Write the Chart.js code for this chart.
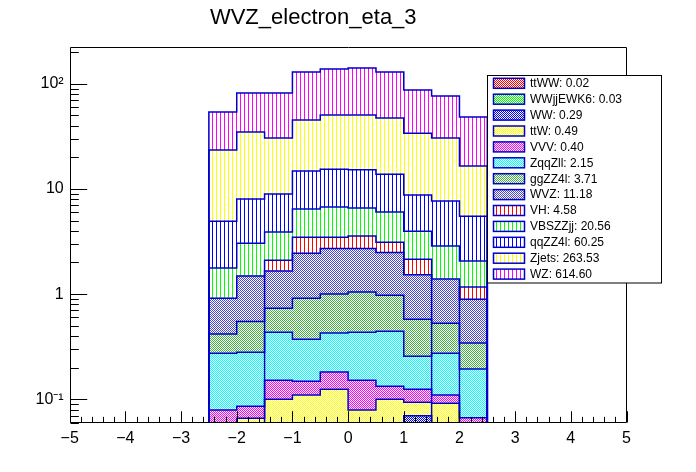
<!DOCTYPE html>
<html><head><meta charset="utf-8">
<script src="https://cdn.jsdelivr.net/npm/chart.js@4.4.1/dist/chart.umd.min.js"></script>
<style>html,body{margin:0;padding:0;background:#fff;} canvas{display:block;}</style>
</head><body>
<canvas id="c" width="696" height="472" style="width:696px;height:472px"></canvas>
<script>
// ---------------- data ----------------
const chartTitle = 'WVZ_electron_eta_3';
const binCenters = [-2.25, -1.75, -1.25, -0.75, -0.25, 0.25, 0.75, 1.25, 1.75, 2.25];
const xTickValues = [-5, -4, -3, -2, -1, 0, 1, 2, 3, 4, 5];
const yTickValues = [0.1, 1, 10, 100];
const yTickLabels = ['10\u207B\u00B9', '1', '10', '10\u00B2'];
const seriesNames = ['ttWW', 'WWjjEWK6', 'WW', 'ttW', 'VVV', 'ZqqZll', 'ggZZ4l', 'WVZ', 'VH', 'VBSZZjj', 'qqZZ4l', 'Zjets', 'WZ'];
const seriesTotals = [0.02, 0.03, 0.29, 0.49, 0.40, 2.15, 3.71, 11.18, 4.58, 20.56, 60.25, 263.53, 614.60];

const ttWW     = [0.001, 0.002, 0.002, 0.003, 0.003, 0.003, 0.002, 0.002, 0.001, 0.001];
const WWjjEWK6 = [0.002, 0.003, 0.003, 0.004, 0.004, 0.004, 0.003, 0.003, 0.002, 0.002];
const WW       = [0.020, 0.025, 0.030, 0.035, 0.030, 0.030, 0.035, 0.065, 0.030, 0.020];
const ttW      = [0.027, 0.036, 0.065, 0.068, 0.088, 0.042, 0.060, 0.024, 0.059, 0.022];
const VVV      = [0.029, 0.020, 0.052, 0.039, 0.057, 0.073, 0.033, 0.031, 0.018, 0.022];
const ZqqZll   = [0.196, 0.195, 0.283, 0.224, 0.245, 0.283, 0.312, 0.132, 0.165, 0.127];
const ggZZ4l   = [0.142, 0.268, 0.301, 0.543, 0.574, 0.610, 0.533, 0.321, 0.255, 0.150];
const WVZ      = [0.499, 0.941, 0.924, 1.534, 1.710, 1.665, 1.512, 0.952, 0.860, 0.552];
const VH       = [0, 0, 0.44, 1.03, 0.77, 0.85, 0.63, 0.62, 0, 0.274];
const VBSZZjj  = [0.854, 1.56, 1.79, 2.95, 3.24, 3.01, 2.90, 1.82, 1.47, 0.89];
const qqZZ4l   = [3.17, 4.95, 5.04, 8.37, 8.68, 8.63, 7.78, 4.76, 4.80, 3.45];
const Zjets    = [18.46, 26.7, 21.47, 30.3, 34.9, 35.1, 33.3, 25.17, 22.74, 10.99];
const WZ       = [30.3, 46.7, 51.0, 83.8, 87.3, 90.4, 81.8, 53.0, 45.8, 31.7];
const seriesValues = [ttWW, WWjjEWK6, WW, ttW, VVV, ZqqZll, ggZZ4l, WVZ, VH, VBSZZjj, qqZZ4l, Zjets, WZ];

// ---------------- styles ----------------
const fillKinds  = ['c', 'c', 'c', 'c', 'c', 'c', 'c', 'c', 'v', 'v', 'v', 'v', 'v'];
const fillColors = ['#ff0000', '#00ff00', '#0000ff', '#ffff00', '#ff00ff', '#00ffff', '#44b044', '#4848c8',
                    '#ff0000', '#00ff00', '#0000ff', '#ffff00', '#ff00ff'];
const lineColor = '#0000cc';
const FONT = "'Liberation Sans', Arial, Helvetica, sans-serif";

const canvas = document.getElementById('c');
const mainCtx = canvas.getContext('2d');
function makePattern(kind, color) {
  const c = document.createElement('canvas');
  const w = kind === 'v' ? 4 : 2, h = kind === 'v' ? 4 : 2;
  c.width = w; c.height = h;
  const g = c.getContext('2d');
  g.fillStyle = '#ffffff'; g.fillRect(0, 0, w, h);
  g.fillStyle = color;
  if (kind === 'v') g.fillRect(0, 0, 1, h);
  else { g.fillRect(0, 0, 1, 1); g.fillRect(1, 1, 1, 1); }
  return mainCtx.createPattern(c, 'repeat');
}
const patterns = seriesNames.map((n, i) => makePattern(fillKinds[i], fillColors[i]));

const datasets = seriesNames.map((name, i) => ({
  label: name,
  data: binCenters.map((x, j) => ({ x: x, y: seriesValues[i][j] })),
  backgroundColor: patterns[i],
  borderWidth: 0,
  barPercentage: 1.0,
  categoryPercentage: 1.0,
  clip: 0
}));

// ---------------- plugins ----------------
const stepOutline = {
  id: 'stepOutline',
  afterDatasetsDraw(chart) {
    const ctx = chart.ctx, a = chart.chartArea;
    ctx.save();
    ctx.beginPath(); ctx.rect(a.left, a.top, a.right - a.left, a.bottom - a.top); ctx.clip();
    ctx.strokeStyle = lineColor; ctx.lineWidth = 1.5; ctx.lineJoin = 'miter';
    chart.data.datasets.forEach((ds, i) => {
      const bars = chart.getDatasetMeta(i).data;
      ctx.beginPath();
      bars.forEach((b, j) => {
        const p = b.getProps(['x', 'y', 'width'], true);
        const l = p.x - p.width / 2, r = p.x + p.width / 2;
        if (j === 0) ctx.moveTo(l, a.bottom + 3);
        ctx.lineTo(l, p.y); ctx.lineTo(r, p.y);
        if (j === bars.length - 1) ctx.lineTo(r, a.bottom + 3);
      });
      ctx.stroke();
    });
    ctx.restore();
  }
};

const frameAndTicks = {
  id: 'frameAndTicks',
  afterDraw(chart) {
    const ctx = chart.ctx, a = chart.chartArea, xs = chart.scales.x, ys = chart.scales.y;
    ctx.save();
    ctx.strokeStyle = '#000'; ctx.lineWidth = 1;
    const L = Math.round(a.left) + 0.5, R = Math.round(a.right) - 0.5;
    const T = Math.round(a.top) + 0.5, B = Math.round(a.bottom) - 0.5;
    ctx.beginPath();
    ctx.rect(L, T, R - L, B - T);
    // x ticks (inside)
    const xMajorLen = 0.03 * (a.bottom - a.top), xMinorLen = xMajorLen / 2;
    for (let k = 0; k <= 50; k++) {
      const v = xs.min + k * (xs.max - xs.min) / 50;
      const px = Math.round(xs.getPixelForValue(v)) + 0.5;
      const len = (k % 5 === 0) ? xMajorLen : xMinorLen;
      ctx.moveTo(px, B); ctx.lineTo(px, B - len);
    }
    // y ticks (inside)
    const yMajorLen = 0.03 * (a.right - a.left), yMinorLen = yMajorLen / 2;
    for (let e = -3; e <= 3; e++) {
      for (let m = 1; m <= 9; m++) {
        const v = m * Math.pow(10, e);
        if (v < ys.min || v > ys.max) continue;
        const py = Math.round(ys.getPixelForValue(v)) + 0.5;
        const len = m === 1 ? yMajorLen : yMinorLen;
        ctx.moveTo(L, py); ctx.lineTo(L + len, py);
      }
    }
    ctx.stroke();
    ctx.restore();
  }
};

const legendBox = { x: 487.5, y: 75.5, w: 174, h: 207.5, rowTop: 83.3, rowStep: 15.9, symX: 493.5, symW: 31, symH: 10, textX: 530 };
const rootLegend = {
  id: 'rootLegend',
  afterDraw(chart) {
    const ctx = chart.ctx, L = legendBox;
    ctx.save();
    ctx.fillStyle = '#fff'; ctx.fillRect(L.x, L.y, L.w, L.h);
    ctx.strokeStyle = '#000'; ctx.lineWidth = 1; ctx.strokeRect(L.x, L.y, L.w, L.h);
    ctx.font = '12px ' + FONT; ctx.textBaseline = 'middle'; ctx.textAlign = 'left';
    chart.data.datasets.forEach((ds, i) => {
      const cy = L.rowTop + i * L.rowStep;
      ctx.fillStyle = ds.backgroundColor;
      ctx.fillRect(L.symX, cy - L.symH / 2, L.symW, L.symH);
      ctx.strokeStyle = lineColor; ctx.lineWidth = 1.5;
      ctx.strokeRect(L.symX, cy - L.symH / 2, L.symW, L.symH);
      ctx.fillStyle = '#000';
      ctx.fillText(ds.label + ': ' + seriesTotals[i].toFixed(2), L.textX, cy + 0.5);
    });
    ctx.restore();
  }
};

new Chart(canvas, {
  type: 'bar',
  data: { datasets: datasets },
  plugins: [stepOutline, frameAndTicks, rootLegend],
  options: {
    responsive: false,
    animation: false,
    layout: { padding: { left: 0, right: 69.5, top: 0, bottom: 0 } },
    plugins: {
      legend: { display: false },
      tooltip: { enabled: false },
      title: {
        display: true, text: chartTitle, color: '#000',
        font: { family: FONT, size: 22, weight: 'normal', lineHeight: 1.2 },
        padding: { top: 5, bottom: 15.9 }
      }
    },
    scales: {
      x: {
        type: 'linear', min: -5, max: 5, stacked: true, offset: false,
        grid: { display: false, drawTicks: false }, border: { display: false },
        afterBuildTicks: s => { s.ticks = xTickValues.map(v => ({ value: v })); },
        afterFit: s => { s.height = 49; },
        ticks: {
          autoSkip: false, maxRotation: 0, padding: 6, color: '#000',
          font: { family: FONT, size: 16 },
          callback: v => (v < 0 ? '\u2212' + Math.abs(v) : String(v))
        }
      },
      y: {
        type: 'logarithmic', min: 0.0596, max: 221.8, stacked: true,
        grid: { display: false, drawTicks: false }, border: { display: false },
        afterBuildTicks: s => { s.ticks = yTickValues.map(v => ({ value: v })); },
        afterFit: s => { s.width = 69.7; },
        ticks: {
          autoSkip: false, padding: 6, color: '#000',
          font: { family: FONT, size: 16 },
          callback: (v) => { const i = yTickValues.indexOf(v); return i >= 0 ? yTickLabels[i] : ''; }
        }
      }
    }
  }
});
</script>
</body></html>
